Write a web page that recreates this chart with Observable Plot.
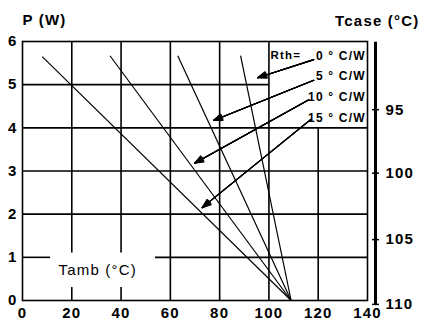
<!DOCTYPE html>
<html>
<head>
<meta charset="utf-8">
<script src="https://cdn.jsdelivr.net/npm/d3@7"></script>
<script src="https://cdn.jsdelivr.net/npm/@observablehq/plot@0.6"></script>
<style>
  html, body { margin: 0; padding: 0; background: #fff; }
  svg text { letter-spacing: 1.2px; }
</style>
</head>
<body>
<div id="chart"></div>
<script>
// ---- data ----
const rthValues = [0, 5, 10, 15];
const rthLabels = ["0 ° C/W", "5 ° C/W", "10 ° C/W", "15 ° C/W"];
const lineStartTamb = [88.5, 63, 35.5, 8];
const lineStartP = [5.67, 5.67, 5.67, 5.65];
const lineEndTamb = [109, 109, 109, 109];
const lineEndP = [0, 0, 0, 0];

const xTicks = [0, 20, 40, 60, 80, 100, 120, 140];
const yTicks = [0, 1, 2, 3, 4, 5, 6];
const tcaseTicks = [95, 100, 105, 110];
const tcaseAtP = [4.42, 2.95, 1.41, -0.09];

const arrowTailTamb = [118.2, 118.2, 116.2, 116.9];
const arrowTailP = [5.58, 5.10, 4.65, 4.19];
const arrowTipTamb = [95.4, 77.5, 69.8, 72.9];
const arrowTipP = [5.16, 4.17, 3.18, 2.15];

const gridX = [20, 40, 60, 80, 100, 120];
const gridY = [1, 2, 3, 4, 5];

// ---- segments of the grid (gaps around labels / legend box) ----
const vSegs = [];
for (const x of gridX) {
  if (x === 20 || x === 40) { vSegs.push({x, y1: 6, y2: 1.1}); vSegs.push({x, y1: 0.3, y2: 0}); }
  else if (x === 120) vSegs.push({x, y1: 4, y2: 0});
  else vSegs.push({x, y1: 6, y2: 0});
}
const hSegs = [];
for (const y of gridY) {
  if (y === 1) { hSegs.push({y, x1: 0, x2: 11.4}); hSegs.push({y, x1: 54, x2: 140}); }
  else if (y === 5) hSegs.push({y, x1: 0, x2: 100});
  else hSegs.push({y, x1: 0, x2: 140});
}

const font = "'Liberation Sans', Arial, Helvetica, sans-serif";
const idx = rthValues.map((_, i) => i);

const arrowFan = [10, 18, 26, 34, 42].map(a =>
  Plot.arrow(idx, {
    x1: i => arrowTailTamb[i], y1: i => arrowTailP[i],
    x2: i => arrowTipTamb[i], y2: i => arrowTipP[i],
    stroke: "black", strokeWidth: 1.1, headAngle: a, headLength: 13
  })
);

const tickSymbol = { draw(ctx) { ctx.moveTo(-3.5, 0); ctx.lineTo(3.5, 0); } };

const chart = Plot.plot({
  width: 425,
  height: 331,
  marginLeft: 22,
  marginRight: 58,
  marginTop: 41,
  marginBottom: 31,
  x: { domain: [0, 140], axis: null },
  y: { domain: [0, 6], axis: null },
  style: { fontFamily: font, background: "white", color: "black" },
  marks: [
    Plot.ruleX(vSegs, { x: "x", y1: "y1", y2: "y2", stroke: "black", strokeWidth: 1.6 }),
    Plot.ruleY(hSegs, { y: "y", x1: "x1", x2: "x2", stroke: "black", strokeWidth: 1.6 }),
    Plot.frame({ stroke: "black", strokeWidth: 1.6 }),
    // characteristic lines
    Plot.link(idx, {
      x1: i => lineStartTamb[i], y1: i => lineStartP[i],
      x2: i => lineEndTamb[i], y2: i => lineEndP[i],
      stroke: "black", strokeWidth: 1.2
    }),
    // legend
    Plot.text(["Rth="], { x: 100.6, y: 5.67, textAnchor: "start", fontSize: 11.5, fontWeight: "bold" }),
    Plot.text(idx, { text: i => rthLabels[i], x: 139.3, y: i => 5.67 - i * 0.48, textAnchor: "end", fontSize: 12, fontWeight: "bold" }),
    ...arrowFan,
    // Tcase axis
    Plot.ruleX([140], { y1: 5.98, y2: -0.09, dx: 8, stroke: "black", strokeWidth: 3 }),
    Plot.dot(tcaseAtP, { x: 140, y: d => d, dx: 8, symbol: tickSymbol, stroke: "black", strokeWidth: 1.5, r: 3 }),
    Plot.text(tcaseTicks, { x: 140, y: (d, i) => tcaseAtP[i], dx: 18, textAnchor: "start", fontSize: 15, fontWeight: "bold" }),
    // axes labels
    Plot.text(xTicks, { x: d => d, frameAnchor: "bottom", dy: 17, fontSize: 15, fontWeight: "bold" }),
    Plot.text(yTicks, { y: d => d, frameAnchor: "left", dx: -5, textAnchor: "end", fontSize: 15, fontWeight: "bold" }),
    Plot.text(["P (W)"], { frameAnchor: "top-left", dy: -27, textAnchor: "start", fontSize: 15, fontWeight: "bold" }),
    Plot.text(["Tcase (°C)"], { frameAnchor: "top-right", dx: 52, dy: -26, textAnchor: "end", fontSize: 15, fontWeight: "bold" }),
    Plot.text(["Tamb (°C)"], { x: 14.6, y: 0.7, textAnchor: "start", fontSize: 15 })
  ]
});
document.getElementById("chart").appendChild(chart);
</script>
</body>
</html>
